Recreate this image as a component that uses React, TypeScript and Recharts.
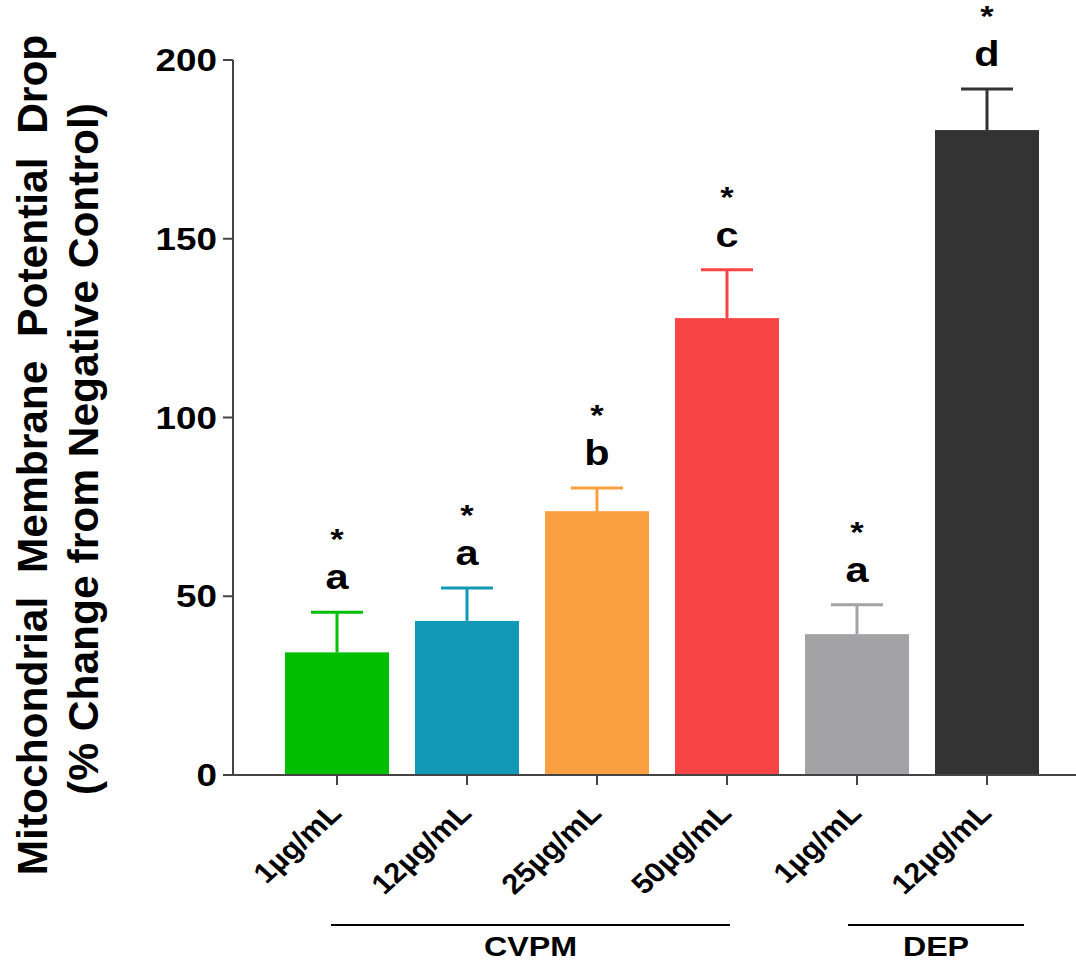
import React from 'react';
import { BarChart, Bar, XAxis, YAxis, Label } from 'recharts';

const categories = ['1µg/mL', '12µg/mL', '25µg/mL', '50µg/mL', '1µg/mL', '12µg/mL'];
const means = [34.3, 43.1, 73.8, 127.8, 39.4, 180.4];
const sems = [11.2, 9.2, 6.5, 13.5, 8.2, 11.5];
const letters = ['a', 'a', 'b', 'c', 'a', 'd'];
const stars = ['*', '*', '*', '*', '*', '*'];
const colors = ['#00BF00', '#1199B5', '#FBA040', '#F84444', '#A3A3A6', '#333333'];
const groupLabels = ['CVPM', 'DEP'];
const groupStart = [0, 4];
const groupEnd = [3, 5];
const yTicks = [0, 50, 100, 150, 200];
const yLabelLines = ['Mitochondrial  Membrane  Potential  Drop', '(% Change from Negative Control)'];

const FONT = '"Liberation Sans", Arial, Helvetica, sans-serif';
const SX = 1.15;
const AXIS = '#444444';
const STEP = 130;
const groupLineOffsets = [[-6, 3], [-9, 37]];
const yLabelX = [47, 98];
const yLabelDy = [1.5, -4.5];

const data = categories.map((name, i) => ({
  key: 'c' + i,
  name,
  mean: means[i],
  sem: sems[i],
  letter: letters[i],
  star: stars[i],
  color: colors[i],
}));

const BarShape = (props: any) => {
  const { x, y, width, height, payload } = props;
  if (!payload || !height) return null;
  const pxPer = height / payload.mean;
  const errTop = y - payload.sem * pxPer;
  const cx = x + width / 2;
  const c = payload.color;
  return (
    <g>
      <rect x={x} y={y} width={width} height={height} fill={c} />
      <line x1={cx} x2={cx} y1={y} y2={errTop} stroke={c} strokeWidth={3} />
      <line x1={cx - width / 4} x2={cx + width / 4} y1={errTop} y2={errTop} stroke={c} strokeWidth={3} />
      <g transform={`translate(${cx},${errTop - 23}) scale(${SX},1)`}>
        <text x={0} y={0} textAnchor="middle" fontFamily={FONT} fontWeight="bold" fontSize={36} fill="#000">
          {payload.letter}
        </text>
      </g>
      <g transform={`translate(${cx},${errTop - 63}) scale(${SX},1)`}>
        <text x={0} y={0} textAnchor="middle" fontFamily={FONT} fontWeight="bold" fontSize={30} fill="#000">
          {payload.star}
        </text>
      </g>
    </g>
  );
};

const YTick = (props: any) => {
  const { x, y, payload } = props;
  return (
    <g transform={`translate(${x - 4},${y + 11}) scale(${SX},1)`}>
      <text x={0} y={0} textAnchor="end" fontFamily={FONT} fontWeight="bold" fontSize={32} fill="#000">
        {payload.value}
      </text>
    </g>
  );
};

const XTick = (props: any) => {
  const { x, y, payload, index } = props;
  const i = typeof index === 'number' ? index : categories.findIndex((_, k) => 'c' + k === payload.value);
  const gi = groupStart.indexOf(i);
  let group = null;
  if (gi >= 0) {
    const left = x + groupLineOffsets[gi][0];
    const right = x + (groupEnd[gi] - groupStart[gi]) * STEP + groupLineOffsets[gi][1];
    group = (
      <g>
        <line x1={left} x2={right} y1={y + 138} y2={y + 138} stroke="#000" strokeWidth={2} />
        <g transform={`translate(${(left + right) / 2},${y + 169}) scale(${SX},1)`}>
          <text x={0} y={0} textAnchor="middle" fontFamily={FONT} fontWeight="bold" fontSize={28} fill="#000">
            {groupLabels[gi]}
          </text>
        </g>
      </g>
    );
  }
  return (
    <g>
      <g transform={`translate(${x + 6},${y + 28}) scale(1.1,1) rotate(-45)`}>
        <text x={0} y={0} textAnchor="end" fontFamily={FONT} fontWeight="bold" fontSize={28} fill="#000">
          {categories[i]}
        </text>
      </g>
      {group}
    </g>
  );
};

const YLabel = (props: any) => {
  const vb = props.viewBox || {};
  const cy = vb.height ? vb.y + vb.height / 2 + 36 : 453.5;
  return (
    <g>
      {yLabelLines.map((t, k) => (
        <g key={k} transform={`translate(${yLabelX[k]},${cy + yLabelDy[k]}) rotate(-90)`}>
          <text
            x={0}
            y={0}
            textAnchor="middle"
            fontFamily={FONT}
            fontWeight="bold"
            fontSize={42.5}
            fill="#000"
            xmlSpace="preserve"
            style={{ whiteSpace: 'pre' }}
          >
            {t}
          </text>
        </g>
      ))}
    </g>
  );
};

export default function App() {
  return (
    <div style={{ position: 'absolute', left: 0, top: 0, width: 1076, height: 963, background: '#fff' }}>
      <BarChart width={1076} height={963} data={data} margin={{ top: 60, right: 0, bottom: 0, left: 0 }}>
        <XAxis
          dataKey="key"
          type="category"
          interval={0}
          padding={{ left: 39, right: 24 }}
          height={188}
          tickSize={10}
          tickLine={{ stroke: AXIS, strokeWidth: 2 }}
          axisLine={{ stroke: AXIS, strokeWidth: 2 }}
          tick={<XTick />}
        />
        <YAxis
          width={233}
          domain={[0, 200]}
          ticks={yTicks}
          interval={0}
          tickSize={10}
          tickLine={{ stroke: AXIS, strokeWidth: 2 }}
          axisLine={{ stroke: AXIS, strokeWidth: 2 }}
          tick={<YTick />}
        >
          <Label content={<YLabel />} />
        </YAxis>
        <Bar dataKey="mean" barSize={104} shape={<BarShape />} isAnimationActive={false} />
      </BarChart>
    </div>
  );
}
